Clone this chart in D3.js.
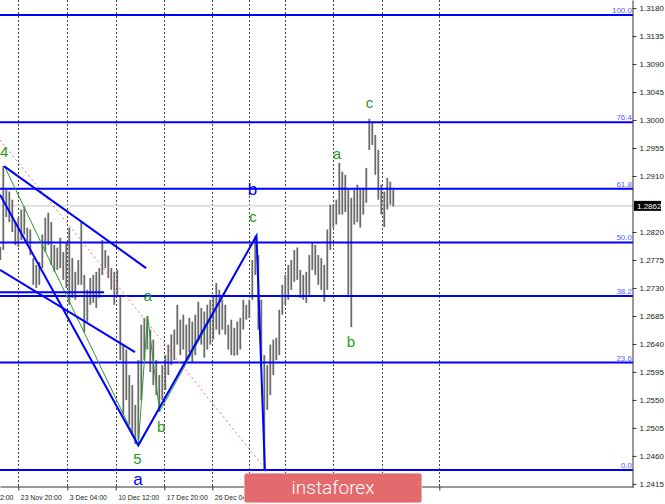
<!DOCTYPE html>
<html><head><meta charset="utf-8">
<script src="https://cdn.jsdelivr.net/npm/d3@7/dist/d3.min.js"></script>
<style>
html,body{margin:0;padding:0;background:#fff;overflow:hidden;}
svg{display:block;font-family:"Liberation Sans",Arial,sans-serif;}
</style></head><body>
<svg id="chart" width="665" height="504"></svg>
<script>
// ---- data (GBP/USD, H4 bars; one bar = every second H4 bar) ----
const highs = [1.2796,1.2926,1.2888,1.2885,1.2872,1.2836,1.2843,1.2856,1.2861,1.2827,
1.2824,1.2778,1.2767,1.2772,1.2816,1.2843,1.2851,1.2836,1.2799,1.2795,
1.2811,1.2788,1.2804,1.2827,1.2778,1.2756,1.2775,1.2836,1.2751,1.2727,
1.2746,1.2751,1.2756,1.2762,1.2807,1.2791,1.2782,1.2762,1.2756,1.2759,
1.2719,1.2639,1.2631,1.2590,1.2574,1.2542,1.2614,1.2671,1.2682,1.2685,
1.2663,1.2647,1.2614,1.2590,1.2606,1.2622,1.2639,1.2655,1.2663,1.2703,
1.2679,1.2687,1.2671,1.2682,1.2676,1.2687,1.2708,1.2698,1.2692,1.2703,
1.2711,1.2719,1.2738,1.2727,1.2711,1.2703,1.2671,1.2679,1.2666,1.2676,
1.2682,1.2711,1.2703,1.2711,1.2775,1.2814,1.2783,1.2711,1.2622,1.2606,
1.2639,1.2647,1.2650,1.2695,1.2735,1.2751,1.2767,1.2775,1.2791,1.2795,
1.2759,1.2751,1.2756,1.2783,1.2803,1.2799,1.2783,1.2778,1.2767,1.2824,
1.2864,1.2864,1.2872,1.2931,1.2917,1.2912,1.2888,1.2875,1.2888,1.2896,
1.2888,1.2891,1.2923,1.3002,1.2997,1.2976,1.2952,1.2896,1.2885,1.2907,
1.2901,1.2888];
const lows = [1.2775,1.2791,1.2844,1.2836,1.2820,1.2799,1.2796,1.2807,1.2816,1.2799,
1.2783,1.2735,1.2730,1.2735,1.2762,1.2788,1.2799,1.2767,1.2756,1.2759,
1.2762,1.2743,1.2730,1.2703,1.2714,1.2711,1.2735,1.2735,1.2659,1.2676,
1.2703,1.2706,1.2698,1.2714,1.2751,1.2762,1.2746,1.2727,1.2703,1.2719,
1.2614,1.2526,1.2550,1.2510,1.2494,1.2479,1.2486,1.2550,1.2614,1.2631,
1.2595,1.2574,1.2558,1.2531,1.2550,1.2566,1.2590,1.2606,1.2614,1.2639,
1.2622,1.2631,1.2614,1.2627,1.2611,1.2622,1.2647,1.2639,1.2618,1.2631,
1.2639,1.2647,1.2663,1.2655,1.2663,1.2655,1.2631,1.2622,1.2621,1.2622,
1.2631,1.2663,1.2679,1.2682,1.2711,1.2751,1.2663,1.2606,1.2438,1.2534,
1.2558,1.2590,1.2614,1.2622,1.2687,1.2703,1.2711,1.2727,1.2740,1.2743,
1.2714,1.2711,1.2706,1.2719,1.2759,1.2751,1.2735,1.2727,1.2708,1.2727,
1.2791,1.2827,1.2832,1.2848,1.2848,1.2852,1.2719,1.2667,1.2832,1.2836,
1.2827,1.2848,1.2867,1.2952,1.2960,1.2912,1.2872,1.2848,1.2828,1.2856,
1.2864,1.2861];
const lastPrice = 1.2862;

const fibLow = 1.24375, fibHigh = 1.3169;
const fibLevels = [0.0, 23.6, 38.2, 50.0, 61.8, 76.4, 100.0];

const priceTicks = [1.2415,1.2460,1.2505,1.2550,1.2595,1.2640,1.2685,1.2730,1.2775,1.2820,
1.2910,1.2955,1.3000,1.3045,1.3090,1.3135,1.3180];

const timeTickIndex  = [-10.1, 6, 22.33, 38.47, 54.67, 70.67, 83, 94.9, 111, 127.13, 146.33];
const timeTickLabels = ["16 Nov 12:00","23 Nov 20:00","3 Dec 04:00","10 Dec 12:00","17 Dec 20:00","26 Dec 04:00","","","","",""];

// wave markup: [bar index, price]
const blueChannelUpper = [[1.23,1.2926],[48.6,1.2762]];
const blueChannelLower = [[-0.1,1.2759],[44.9,1.2627]];
const blueShortLevel   = [[-0.1,1.2723],[34.6,1.2723]];
const blueWave         = [[-0.1,1.2880],[46,1.2477],[85.4,1.2814],[88.2,1.2438]];
const greenWave        = [[1.57,1.2924],[46,1.2477],[49.1,1.2685],[53.1,1.2531],[85.4,1.2814]];
const redDotted        = [[-0.1,1.2968],[88.2,1.2440]];

const waveLabels = ["4","5","a","a","b","b","c","a","c","b"];
const waveLabelIdx = [1.3,45.7,45.9,49.1,53.6,84.1,84.2,112.2,123.1,116.9];
const waveLabelPrice = [1.2941,1.2447,1.2414,1.2709,1.2499,1.2880,1.2836,1.2938,1.3020,1.2635];
const waveLabelKind = ["g","g","B","g","g","B","g","g","g","g"];

// ---- drawing ----
const W = 633, H = 487;
const svg = d3.select("#chart");
const x = d3.scaleLinear().domain([-0.1, 210.9]).range([0, W]);
const y = d3.scaleLinear().domain([1.2410, 1.3193]).range([H, 0]);

// grid
svg.append("g").selectAll("line").data(timeTickIndex.filter(d => x(d) > 0))
  .join("line")
  .attr("x1", d => Math.round(x(d)) + 0.5).attr("x2", d => Math.round(x(d)) + 0.5)
  .attr("y1", 0).attr("y2", H)
  .attr("stroke", "#444").attr("stroke-width", 1).attr("stroke-dasharray", "2,2");

// current price line
svg.append("line").attr("x1", 0).attr("x2", W)
  .attr("y1", y(lastPrice)).attr("y2", y(lastPrice))
  .attr("stroke", "#d8d8d8").attr("stroke-width", 1.5);

// bars
svg.append("g").selectAll("line").data(highs)
  .join("line")
  .attr("x1", (d, i) => x(i)).attr("x2", (d, i) => x(i))
  .attr("y1", d => y(d)).attr("y2", (d, i) => y(lows[i]))
  .attr("stroke", "#6a6a6a").attr("stroke-width", 1.8);

// fib levels
const fibG = svg.append("g");
fibLevels.forEach(l => {
  const p = fibLow + (fibHigh - fibLow) * l / 100;
  fibG.append("line").attr("x1", 0).attr("x2", W)
    .attr("y1", y(p)).attr("y2", y(p))
    .attr("stroke", "#0000ff").attr("stroke-width", 2);
  fibG.append("text").attr("x", W - 1).attr("y", y(p) - 2)
    .attr("text-anchor", "end").attr("font-size", 8).attr("fill", "#5a5aff")
    .text(l.toFixed(1));
});

const line = d3.line().x(d => x(d[0])).y(d => y(d[1]));
svg.append("path").attr("d", line(redDotted)).attr("fill", "none")
  .attr("stroke", "#ff6a6a").attr("stroke-width", 1).attr("stroke-dasharray", "2,3");
svg.append("path").attr("d", line(greenWave)).attr("fill", "none")
  .attr("stroke", "#2e9a2e").attr("stroke-width", 1);
[blueChannelUpper, blueChannelLower, blueShortLevel, blueWave].forEach(pts => {
  svg.append("path").attr("d", line(pts)).attr("fill", "none")
    .attr("stroke", "#0000ff").attr("stroke-width", 2).attr("stroke-linejoin", "miter");
});

// wave labels
svg.append("g").selectAll("text").data(waveLabels)
  .join("text")
  .attr("x", (d, i) => x(waveLabelIdx[i]))
  .attr("y", (d, i) => y(waveLabelPrice[i]))
  .attr("text-anchor", "middle")
  .attr("font-size", (d, i) => waveLabelKind[i] === "B" ? 17 : 15)
  .attr("fill", (d, i) => waveLabelKind[i] === "B" ? "#0000ff" : "#229a22")
  .text(d => d);

// right axis
const ya = svg.append("g").attr("transform", `translate(${W - 0.5},0)`)
  .call(d3.axisRight(y).tickValues(priceTicks).tickFormat(d3.format(".4f")).tickSize(4).tickSizeOuter(0).tickPadding(3));
ya.select(".domain").attr("stroke", "#333");
ya.selectAll(".tick line").attr("stroke", "#333");
ya.selectAll("text").attr("font-size", 8).attr("fill", "#222").attr("font-family", "Liberation Sans, Arial, sans-serif");

// bottom axis
const xa = svg.append("g").attr("transform", `translate(0,${H - 0.5})`)
  .call(d3.axisBottom(x).tickValues(timeTickIndex).tickFormat((d, i) => timeTickLabels[i]).tickSize(4).tickSizeOuter(0).tickPadding(4));
xa.select(".domain").attr("stroke", "#333");
xa.selectAll(".tick line").attr("stroke", "#333");
xa.selectAll("text").attr("font-size", 8).attr("fill", "#222").attr("text-anchor", "start").attr("dx", 2)
  .attr("font-family", "Liberation Sans, Arial, sans-serif")
  .each(function () {
    const len = this.getComputedTextLength();
    if (len > 0) d3.select(this).attr("textLength", len * 0.86).attr("lengthAdjust", "spacingAndGlyphs");
  });

// last price tag
const tg = svg.append("g").attr("transform", `translate(634,${y(lastPrice)})`);
tg.append("rect").attr("x", 0).attr("y", -5).attr("width", 27).attr("height", 10).attr("fill", "#000");
tg.append("text").attr("x", 3).attr("y", 3).attr("font-size", 8).attr("fill", "#fff").text(d3.format(".4f")(lastPrice));

// watermark
const wm = svg.append("g");
wm.append("rect").attr("x", 244.5).attr("y", 473.5).attr("width", 177).attr("height", 29).attr("rx", 2)
  .attr("fill", "#e46b6d").attr("stroke", "#f2a9aa").attr("stroke-width", 1);
wm.append("text").attr("x", 333).attr("y", 494).attr("text-anchor", "middle")
  .attr("font-size", 19).attr("fill", "#fff").attr("font-family", "Roboto, sans-serif").attr("font-weight", 300)
  .text("instaforex");
</script>
</body></html>
